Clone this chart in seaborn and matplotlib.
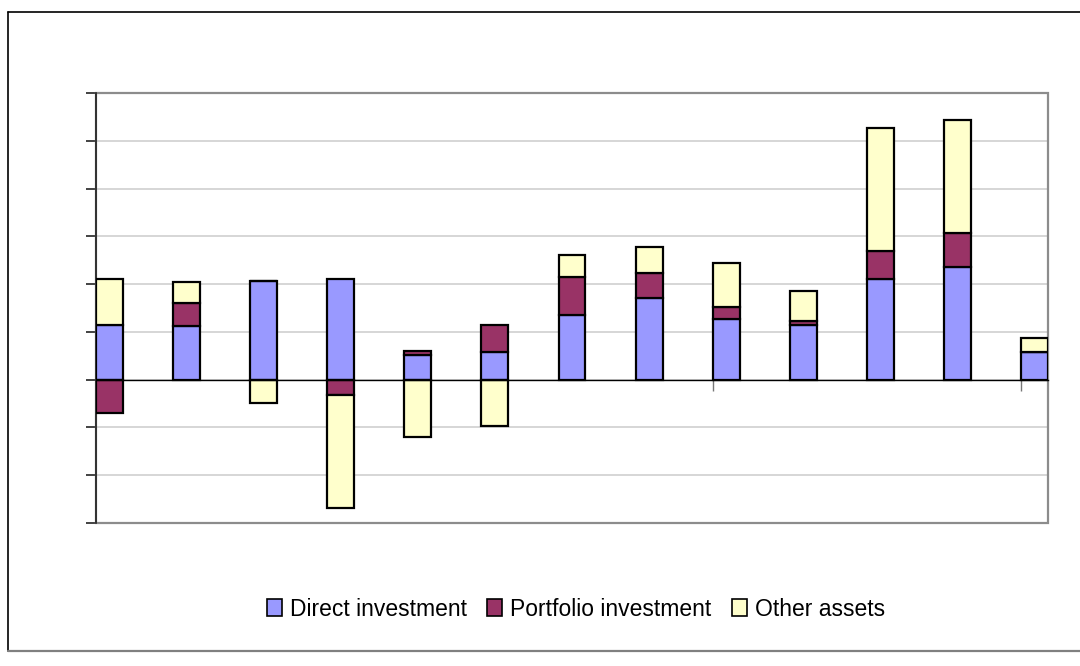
import numpy as np
import pandas as pd
import matplotlib
matplotlib.use("Agg")
import matplotlib.pyplot as plt
from matplotlib.patches import Rectangle, Patch
from matplotlib.lines import Line2D
import seaborn as sns

sns.set_style("white")
plt.rcParams["font.family"] = ["Liberation Sans", "DejaVu Sans"]

# data (no axis labels in the original)
periods = [str(i) for i in range(1, 14)]
direct = [1.15, 1.12, 2.07, 2.11, 0.52, 0.57, 1.36, 1.70, 1.28, 1.15, 2.10, 2.35, 0.57]
portfolio = [-0.70, 0.49, 0.0, -0.33, 0.09, 0.58, 0.78, 0.54, 0.25, 0.08, 0.59, 0.71, 0.0]
other = [0.96, 0.43, -0.49, -2.36, -1.20, -0.96, 0.46, 0.54, 0.92, 0.63, 2.57, 2.37, 0.30]

series = ["Direct investment", "Portfolio investment", "Other assets"]
colors = ["#9999FF", "#993366", "#FFFFCC"]

df = pd.DataFrame({"period": periods, series[0]: direct,
                   series[1]: portfolio, series[2]: other})

fig = plt.figure(figsize=(10.8, 6.66), dpi=100)
ax = fig.add_axes([96 / 1080, 1 - 523 / 666, 952 / 1080, 430 / 666])

# stack positives upward and negatives downward
pos_base = np.zeros(len(df))
neg_base = np.zeros(len(df))
for name, col in zip(series, colors):
    vals = df[name].to_numpy()
    bottom = np.where(vals >= 0, pos_base, neg_base)
    sns.barplot(x=df["period"], y=vals, bottom=bottom, width=0.35,
                color=col, saturation=1, edgecolor="black", linewidth=1.6,
                errorbar=None, ax=ax, zorder=3)
    pos_base += np.clip(vals, 0, None)
    neg_base += np.clip(vals, None, 0)

ax.set_xlim(-0.175, 12.175)
ax.set_ylim(-3, 6)
ax.set_yticks(range(-3, 7))
ax.set_yticklabels([])
ax.set_xticks([i - 0.175 for i in (0, 4, 8, 12)])
ax.set_xticklabels([])
ax.set_xlabel("")
ax.set_ylabel("")

ax.yaxis.grid(True, color="#CFCFCF", linewidth=1.2)
ax.set_axisbelow(True)

ax.spines["top"].set_visible(False)
ax.spines["right"].set_visible(False)
ax.spines["bottom"].set_position(("data", 0))
ax.spines["bottom"].set_color("black")
ax.spines["bottom"].set_linewidth(1.0)
ax.spines["bottom"].set_zorder(4)
ax.spines["left"].set_color("#222222")
ax.spines["left"].set_linewidth(1.2)
ax.tick_params(axis="y", direction="out", length=7, width=1.2, color="#222222", left=True)
ax.tick_params(axis="x", direction="out", length=8, width=1.0, color="#777777", bottom=True)

# grey plot-area frame
ax.add_patch(Rectangle((0, 0), 1, 1, transform=ax.transAxes, fill=False,
                       edgecolor="#8C8C8C", linewidth=1.6, clip_on=False, zorder=1))

# outer chart border
fig.add_artist(Line2D([8 / 1080, 1.0], [1 - 12 / 666] * 2, color="black", lw=1.2))
fig.add_artist(Line2D([8 / 1080] * 2, [1 - 12 / 666, 1 - 651 / 666], color="black", lw=1.2))
fig.add_artist(Line2D([8 / 1080, 1.0], [1 - 651 / 666] * 2, color="#808080", lw=1.6))

handles = [Patch(facecolor=c, edgecolor="black", linewidth=1.2) for c in colors]
fig.legend(handles, series, loc="center", bbox_to_anchor=(576 / 1080, 1 - 609 / 666),
           ncol=3, frameon=False, fontsize=16.5, labelcolor="black",
           handlelength=0.65, handleheight=0.75,
           handletextpad=0.35, columnspacing=0.9)

fig.savefig("out.png", dpi=100)
